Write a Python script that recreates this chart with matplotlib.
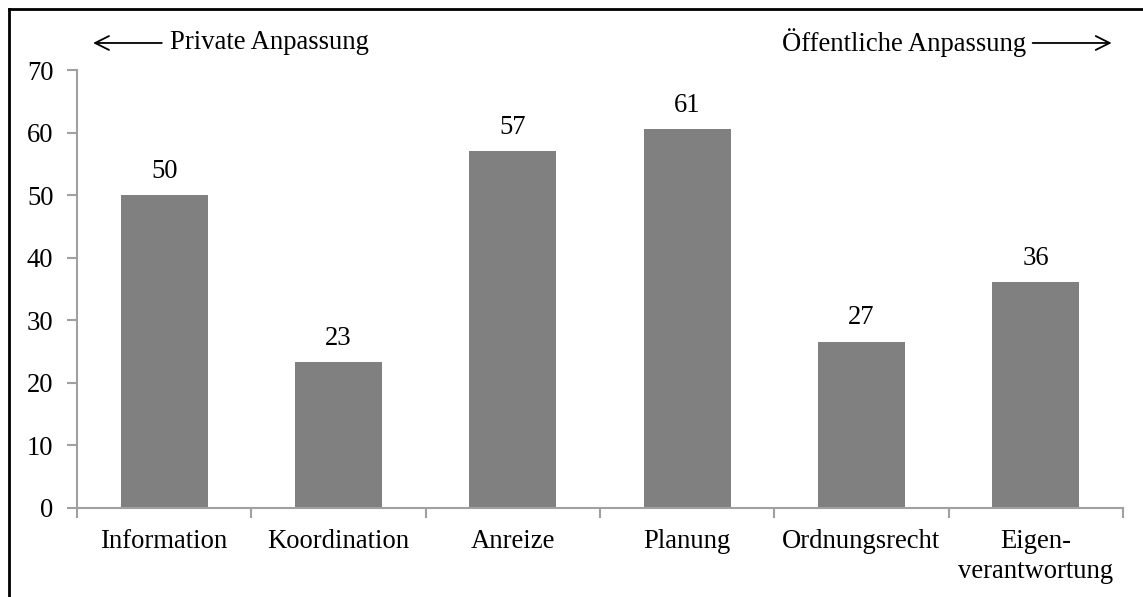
import matplotlib
matplotlib.use('Agg')
from matplotlib import pyplot as plt
from matplotlib.lines import Line2D

categories = ['Information', 'Koordination', 'Anreize', 'Planung', 'Ordnungsrecht', 'Eigen-\nverantwortung']
values = [50.0, 23.3, 57.0, 60.5, 26.6, 36.1]
labels = ['50', '23', '57', '61', '27', '36']
yticks = [0, 10, 20, 30, 40, 50, 60, 70]

plt.rcParams['font.family'] = ['Liberation Serif', 'DejaVu Serif']
plt.rcParams['font.size'] = 19.2

fig = plt.figure(figsize=(11.43, 5.97), dpi=100)
ax = fig.add_axes([0.0674, 0.1491, 0.915, 0.7336])

x = list(range(len(categories)))
ax.bar(x, values, width=0.5, color='#808080')

for i in x:
    ax.annotate(labels[i], (i, values[i]), xytext=(0, 8), textcoords='offset points',
                ha='center', va='bottom')

ax.set_xlim(-0.5, len(categories) - 0.5)
ax.set_ylim(0, 70)
ax.set_yticks(yticks)

# ticks between categories, labels centred under bars
ax.set_xticks([i - 0.5 for i in range(len(categories) + 1)])
ax.set_xticklabels([])
ax.set_xticks(x, minor=True)
ax.set_xticklabels(categories, minor=True, linespacing=1.25)
ax.tick_params(axis='x', which='minor', length=0, pad=15)
ax.tick_params(axis='x', which='major', length=7, color='#a0a0a0', width=1.5)
ax.tick_params(axis='y', length=7, color='#a0a0a0', width=1.5, pad=10)

for s in ['top', 'right']:
    ax.spines[s].set_visible(False)
for s in ['left', 'bottom']:
    ax.spines[s].set_color('#a0a0a0')
    ax.spines[s].set_linewidth(1.5)

# direction annotations above the plot
fig.text(0.149, 0.928, 'Private Anpassung', ha='left', va='center')
fig.patches.append(matplotlib.patches.FancyArrowPatch((0.144, 0.928), (0.079, 0.928),
                   transform=fig.transFigure, arrowstyle='->', mutation_scale=25, lw=1.3, color='black'))
fig.text(0.898, 0.928, 'Öffentliche Anpassung', ha='right', va='center')
fig.patches.append(matplotlib.patches.FancyArrowPatch((0.901, 0.928), (0.975, 0.928),
                   transform=fig.transFigure, arrowstyle='->', mutation_scale=25, lw=1.3, color='black'))

# outer frame (left and top only visible)
fig.add_artist(Line2D([0.0075, 0.0075], [0.0, 0.985], transform=fig.transFigure, color='black', lw=2))
fig.add_artist(Line2D([0.0075, 1.0], [0.985, 0.985], transform=fig.transFigure, color='black', lw=2))

fig.savefig('out.png', dpi=100)
